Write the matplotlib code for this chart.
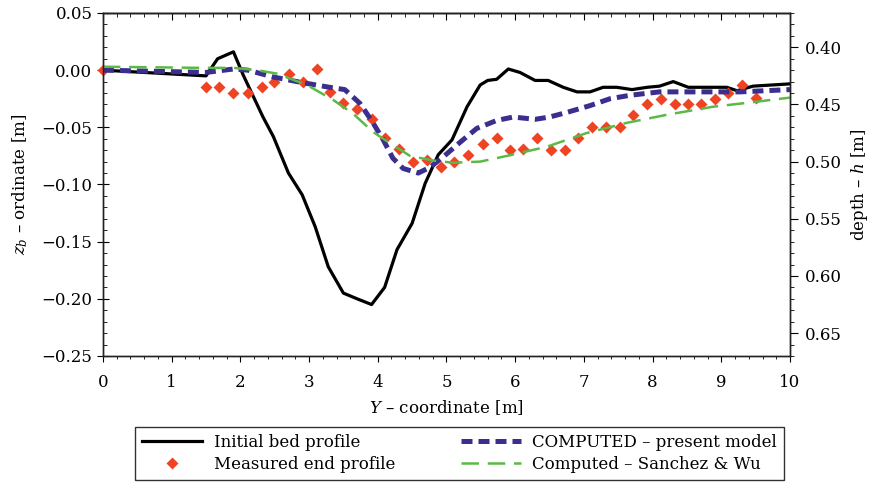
import matplotlib.pyplot as plt
import numpy as np
from matplotlib.ticker import MultipleLocator

plt.rcParams['font.family'] = ['DejaVu Serif']
plt.rcParams['mathtext.fontset'] = 'dejavuserif'

# Initial bed profile
init_y = [0.0, 1.5, 1.67, 1.9, 2.04, 2.33, 2.48, 2.7, 2.9, 3.09, 3.28, 3.5, 3.7, 3.91,
          4.1, 4.28, 4.5, 4.69, 4.88, 5.08, 5.3, 5.49, 5.6, 5.73, 5.9, 6.07, 6.29, 6.48,
          6.7, 6.9, 7.09, 7.28, 7.48, 7.7, 7.92, 8.1, 8.3, 8.52, 9.08, 9.23, 9.46, 10.0]
init_z = [0.0, -0.005, 0.010, 0.016, -0.004, -0.041, -0.058, -0.090, -0.109, -0.137,
          -0.172, -0.195, -0.200, -0.205, -0.190, -0.157, -0.134, -0.099, -0.074, -0.061,
          -0.032, -0.013, -0.009, -0.008, 0.001, -0.002, -0.009, -0.009, -0.015, -0.019,
          -0.019, -0.015, -0.015, -0.017, -0.015, -0.014, -0.010, -0.015, -0.015, -0.018,
          -0.014, -0.012]

# Measured end profile
meas_y = [0.0, 1.5, 1.69, 1.9, 2.11, 2.31, 2.49, 2.71, 2.91, 3.11, 3.3, 3.5, 3.7, 3.91,
          4.1, 4.31, 4.51, 4.71, 4.92, 5.11, 5.31, 5.53, 5.73, 5.92, 6.11, 6.32, 6.52,
          6.72, 6.91, 7.12, 7.32, 7.53, 7.72, 7.92, 8.12, 8.33, 8.52, 8.7, 8.91, 9.1,
          9.3, 9.5]
meas_z = [0.0, -0.015, -0.015, -0.020, -0.020, -0.015, -0.010, -0.003, -0.010, 0.001,
          -0.019, -0.029, -0.034, -0.043, -0.059, -0.069, -0.080, -0.079, -0.085, -0.080,
          -0.074, -0.065, -0.059, -0.070, -0.069, -0.059, -0.070, -0.070, -0.059, -0.050,
          -0.050, -0.050, -0.039, -0.030, -0.025, -0.030, -0.030, -0.030, -0.025, -0.020,
          -0.013, -0.024]

# COMPUTED - present model
model_y = [0.0, 1.5, 1.9, 2.11, 2.48, 2.91, 3.3, 3.52, 3.74, 3.92, 4.08, 4.22, 4.37,
           4.59, 4.76, 4.95, 5.2, 5.44, 5.73, 5.97, 6.29, 6.5, 6.75, 7.09, 7.38, 7.67,
           8.1, 8.65, 9.27, 10.0]
model_z = [0.0, -0.002, 0.001, 0.0, -0.006, -0.011, -0.015, -0.017, -0.029, -0.045,
           -0.061, -0.077, -0.086, -0.090, -0.085, -0.076, -0.063, -0.051, -0.044, -0.041,
           -0.043, -0.041, -0.037, -0.031, -0.025, -0.022, -0.019, -0.019, -0.019, -0.017]

# Computed - Sanchez & Wu
sw_y = [0.0, 1.45, 1.9, 2.24, 2.53, 2.97, 3.35, 3.64, 3.93, 4.18, 4.47, 4.8, 5.1, 5.49,
        5.88, 6.46, 7.04, 7.63, 8.21, 8.88, 9.46, 10.0]
sw_z = [0.003, 0.002, 0.002, 0.0, -0.003, -0.013, -0.026, -0.038, -0.054, -0.064, -0.075,
        -0.079, -0.081, -0.080, -0.075, -0.067, -0.055, -0.046, -0.039, -0.032, -0.028,
        -0.024]

fs = 12

fig = plt.figure(figsize=(8.72, 4.9), dpi=100)
ax = fig.add_axes([0.118, 0.2735, 0.788, 0.70])

l1, = ax.plot(init_y, init_z, color='black', lw=2.3, label='Initial bed profile', zorder=3)
l2, = ax.plot(meas_y, meas_z, linestyle='none', marker='D', ms=6, color='#ee4424',
              mec='none', label='Measured end profile', zorder=4, clip_on=False)
l3, = ax.plot(model_y, model_z, color='#3a2f8f', lw=3.6, dashes=(2.2, 1.2),
              label='COMPUTED \u2013 present model', zorder=5)
l4, = ax.plot(sw_y, sw_z, color='#5cb947', lw=1.8, dashes=(7, 3.5),
              label='Computed \u2013 Sanchez & Wu', zorder=6)

ax.set_xlim(0, 10)
ax.set_ylim(-0.25, 0.05)
ax.xaxis.set_major_locator(MultipleLocator(1))
ax.xaxis.set_minor_locator(MultipleLocator(0.2))
ax.yaxis.set_major_locator(MultipleLocator(0.05))
ax.yaxis.set_minor_locator(MultipleLocator(0.01))
ax.yaxis.set_major_formatter(plt.FuncFormatter(lambda v, p: f"{v:.2f}".replace('-', '\u2212')))
ax.tick_params(axis='x', which='both', direction='out', labelsize=fs, pad=9)
ax.tick_params(axis='x', which='major', length=4)
ax.tick_params(axis='x', which='minor', length=2.5)
ax.tick_params(axis='y', which='major', direction='inout', length=8, labelsize=fs)
ax.tick_params(axis='y', which='minor', direction='in', length=3)
ax.set_xlabel('$Y$ \u2013 coordinate [m]', fontsize=fs, labelpad=5)
ax.set_ylabel('$z_b$ \u2013 ordinate [m]', fontsize=fs, labelpad=8)

# inward ticks along the top edge
top = ax.secondary_xaxis('top')
top.xaxis.set_major_locator(MultipleLocator(1))
top.xaxis.set_minor_locator(MultipleLocator(0.2))
top.tick_params(axis='x', which='both', direction='in', labeltop=False)
top.tick_params(axis='x', which='major', length=5)
top.tick_params(axis='x', which='minor', length=3)

ax2 = ax.twinx()
ax2.set_ylim(0.67, 0.37)
ax2.yaxis.set_major_locator(MultipleLocator(0.05))
ax2.yaxis.set_minor_locator(MultipleLocator(0.01))
ax2.yaxis.set_major_formatter(plt.FuncFormatter(lambda v, p: f"{v:.2f}"))
ax2.tick_params(axis='y', which='major', direction='out', length=6, labelsize=fs, pad=5)
ax2.tick_params(axis='y', which='minor', direction='out', length=3)
ax2.set_ylabel('depth \u2013 $h$ [m]', fontsize=fs, labelpad=5)

for a in (ax, ax2, top):
    for s in a.spines.values():
        s.set_linewidth(1.0)
        s.set_color('#222222')

leg = fig.legend(handles=[l1, l2, l3, l4], ncol=2, loc='lower left', mode='expand',
                 bbox_to_anchor=(0.1456, 0.004, 0.7626, 0.12), fontsize=12,
                 frameon=True, fancybox=False, edgecolor='black', handlelength=3.6,
                 handletextpad=0.7, columnspacing=2.0, labelspacing=0.3,
                 borderpad=0.4, numpoints=1)
leg.get_frame().set_linewidth(1.0)

fig.savefig('out.png', dpi=100)
